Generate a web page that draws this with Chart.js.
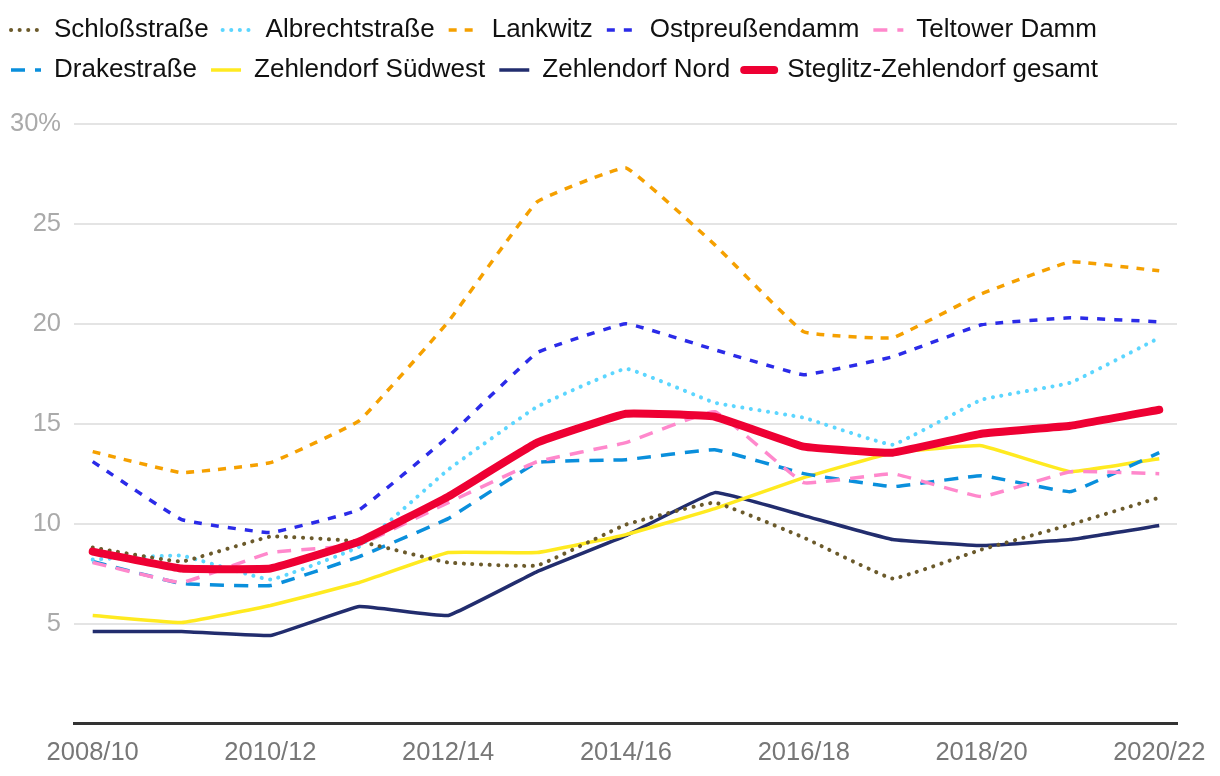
<!DOCTYPE html>
<html>
<head>
<meta charset="utf-8">
<script src="https://cdn.jsdelivr.net/npm/chart.js@4/dist/chart.umd.min.js"></script>
<style>
  html, body { margin: 0; padding: 0; background: #fff; }
  #wrap { width: 1220px; height: 776px; position: relative; }
</style>
</head>
<body>
<div id="wrap"><canvas id="chart"></canvas></div>
<script>
// periods on the x axis
const periods = ["2008/10", "2009/11", "2010/12", "2011/13", "2012/14", "2013/15", "2014/16",
                 "2015/17", "2016/18", "2017/19", "2018/20", "2019/21", "2020/22"]

// values in percent
const schlossstrasse   = [8.8, 8.1, 9.35, 9.1, 8.05, 7.9, 9.95, 11.05, 9.3, 7.25, 8.7, 9.95, 11.3]
const albrechtstrasse  = [8.2, 8.4, 7.2, 8.85, 12.7, 15.85, 17.75, 16.05, 15.3, 13.95, 16.2, 17.05, 19.3]
const lankwitz         = [13.6, 12.55, 13.05, 15.15, 20.1, 26.1, 27.8, 23.95, 19.6, 19.3, 21.5, 23.1, 22.65]
const ostpreussendamm  = [13.1, 10.2, 9.55, 10.7, 14.35, 18.55, 20.0, 18.7, 17.45, 18.35, 19.95, 20.3, 20.1]
const teltowerDamm     = [8.05, 7.05, 8.55, 8.95, 11.05, 13.1, 14.05, 15.6, 12.05, 12.5, 11.35, 12.6, 12.5]
const drakestrasse     = [8.1, 7.0, 6.9, 8.35, 10.25, 13.05, 13.2, 13.7, 12.5, 11.85, 12.4, 11.6, 13.55]
const zehlendorfSW     = [5.4, 5.05, 5.9, 7.05, 8.55, 8.55, 9.45, 10.75, 12.3, 13.55, 13.9, 12.6, 13.25]
const zehlendorfNord   = [4.6, 4.6, 4.4, 5.85, 5.4, 7.6, 9.4, 11.55, 10.4, 9.2, 8.9, 9.2, 9.9]
const gesamt           = [8.6, 7.75, 7.75, 9.1, 11.35, 14.05, 15.5, 15.35, 13.85, 13.55, 14.5, 14.9, 15.7]

const yTicks = [0, 5, 10, 15, 20, 25, 30]
const xTicks = [0, 2, 4, 6, 8, 10, 12]

function points(values) {
    return values.map((v, i) => ({ x: i, y: v }))
}

function series(label, values, color, dash, width, round) {
    return {
        label: label,
        data: points(values),
        borderColor: color,
        backgroundColor: color,
        borderWidth: width,
        borderDash: dash,
        borderCapStyle: round ? 'round' : 'butt',
        borderJoinStyle: 'round',
        pointRadius: 0,
        pointHoverRadius: 0,
        tension: 0.08,
        order: 1
    }
}

const dotted = [0.1, 8.5]

const datasets = [
    series("Schloßstraße", schlossstrasse, "#6b5a2b", dotted, 4, true),
    series("Albrechtstraße", albrechtstrasse, "#5cd6ff", dotted, 4, true),
    series("Lankwitz", lankwitz, "#f5a000", [8, 8], 3.5, false),
    series("Ostpreußendamm", ostpreussendamm, "#2b2be8", [8, 9], 3.5, false),
    series("Teltower Damm", teltowerDamm, "#ff88cc", [14, 10], 3.5, false),
    series("Drakestraße", drakestrasse, "#0a8fdc", [14, 10], 3.5, false),
    series("Zehlendorf Südwest", zehlendorfSW, "#ffea20", [], 3.5, false),
    series("Zehlendorf Nord", zehlendorfNord, "#222d6e", [], 3.5, false),
    series("Steglitz-Zehlendorf gesamt", gesamt, "#ee0033", [], 8, true)
]
datasets[8].order = 0

// push the plot area down below the legend
const legendGap = {
    id: 'legendGap',
    beforeInit(chart) {
        const fit = chart.legend.fit
        chart.legend.fit = function () {
            fit.bind(chart.legend)()
            this.height += 31
        }
    }
}

const fontFamily = "'Liberation Sans', Arial, sans-serif"

new Chart(document.getElementById('chart'), {
    type: 'line',
    data: { datasets: datasets },
    plugins: [legendGap],
    options: {
        responsive: true,
        maintainAspectRatio: false,
        animation: false,
        layout: { padding: { left: -3, right: 42, top: 3, bottom: -6 } },
        plugins: {
            tooltip: { enabled: false },
            legend: {
                position: 'top',
                align: 'start',
                labels: {
                    usePointStyle: true,
                    pointStyle: 'line',
                    pointStyleWidth: 30,
                    padding: 14,
                    color: '#111',
                    font: { family: fontFamily, size: 26 },
                    sort: (a, b) => a.datasetIndex - b.datasetIndex,
                    generateLabels: (chart) => {
                        // default labels lose the dash pattern with point styles
                        const items = Chart.defaults.plugins.legend.labels.generateLabels(chart)
                        items.forEach(item => {
                            const ds = chart.data.datasets[item.datasetIndex]
                            item.lineDash = ds.borderDash
                            item.lineCap = ds.borderCapStyle
                            item.lineWidth = ds.borderWidth
                        })
                        return items
                    }
                }
            }
        },
        scales: {
            x: {
                type: 'linear',
                min: -0.21,
                max: 12.2,
                afterBuildTicks: (scale) => { scale.ticks = xTicks.map(v => ({ value: v })) },
                grid: { display: false, drawTicks: false },
                border: { display: true, color: '#333', width: 3 },
                ticks: {
                    autoSkip: false,
                    maxRotation: 0,
                    padding: 14,
                    color: '#777',
                    font: { family: fontFamily, size: 25.5 },
                    callback: (v) => periods[v]
                }
            },
            y: {
                min: 0,
                max: 30,
                afterBuildTicks: (scale) => { scale.ticks = yTicks.map(v => ({ value: v })) },
                grid: { color: '#e4e4e4', lineWidth: 2, drawTicks: false },
                border: { display: false },
                ticks: {
                    padding: 13,
                    color: '#aaa',
                    font: { family: fontFamily, size: 25.5 },
                    callback: (v) => v === 0 ? '' : (v === 30 ? '30%' : v)
                }
            }
        }
    }
})
</script>
</body>
</html>
